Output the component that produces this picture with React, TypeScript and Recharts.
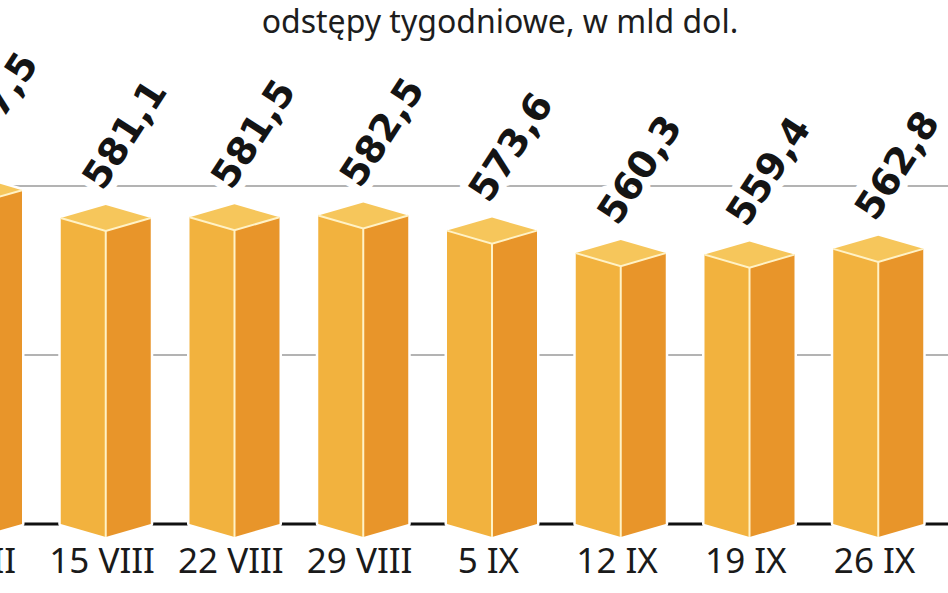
import React from "react";
import { BarChart, Bar, XAxis, YAxis, ReferenceLine, LabelList } from "recharts";

const title = "odstępy tygodniowe, w mld dol.";
const weeks = ["8 VIII", "15 VIII", "22 VIII", "29 VIII", "5 IX", "12 IX", "19 IX", "26 IX"];
const values = [597.5, 581.1, 581.5, 582.5, 573.6, 560.3, 559.4, 562.8];
const gridValues = [500, 600];
const baseValue = 400;

const data = weeks.map((week, i) => ({ week, value: values[i] }));

const fmt = (v: number) => v.toFixed(1).replace(".", ",");

const sansFont = "'Noto Sans', 'Open Sans', 'DejaVu Sans', sans-serif";

// isometric-looking column: two side faces + diamond top
function PrismBar(props: any) {
  const { x, y, width, height } = props;
  if (width == null || height == null) return null;
  const d = 13;
  const xl = x;
  const xm = x + width / 2;
  const xr = x + width;
  const yt = y;
  const yb = y + height;
  const left = `${xl},${yt} ${xm},${yt + d} ${xm},${yb + d} ${xl},${yb}`;
  const right = `${xm},${yt + d} ${xr},${yt} ${xr},${yb} ${xm},${yb + d}`;
  const top = `${xl},${yt} ${xm},${yt - d} ${xr},${yt} ${xm},${yt + d}`;
  const outline = `${xl},${yt} ${xm},${yt - d} ${xr},${yt} ${xr},${yb} ${xm},${yb + d} ${xl},${yb}`;
  return (
    <g>
      <polygon points={outline} fill="#fff" stroke="#fff" strokeWidth={5} strokeLinejoin="round" />
      <polygon points={left} fill="#F2B23E" />
      <polygon points={right} fill="#E8952A" />
      <polygon points={top} fill="#F6C65B" />
      <polyline
        points={`${xl},${yt} ${xm},${yt + d} ${xr},${yt}`}
        fill="none"
        stroke="#FFF2C6"
        strokeWidth={2}
      />
      <line x1={xm} y1={yt + d} x2={xm} y2={yb + d} stroke="#FFF2C6" strokeWidth={2} />
    </g>
  );
}

function ValueLabel(props: any) {
  const { x, y, width, value } = props;
  const ax = x + width / 2 - 3;
  const ay = y - 26;
  return (
    <text
      x={ax}
      y={ay}
      transform={`rotate(-57 ${ax} ${ay})`}
      style={{ fontFamily: "'DejaVu Sans', sans-serif", fontWeight: 700, fontSize: 38 }}
      fill="#141414"
      stroke="#fff"
      strokeWidth={16}
      strokeLinejoin="round"
      paintOrder="stroke"
    >
      {fmt(value)}
    </text>
  );
}

function WeekTick(props: any) {
  const { x, y, payload } = props;
  return (
    <text
      x={x - 4}
      y={y + 49}
      textAnchor="middle"
      style={{ fontFamily: sansFont, fontSize: 35 }}
      fill="#1a1a1a"
    >
      {payload.value}
    </text>
  );
}

export default function App() {
  return (
    <div
      style={{
        position: "absolute",
        left: 0,
        top: 0,
        width: 948,
        height: 593,
        overflow: "hidden",
        background: "#fff",
      }}
    >
      <div style={{ position: "absolute", left: -87, top: 0 }}>
        <BarChart
          width={1050}
          height={593}
          data={data}
          margin={{ top: 17, right: 0, bottom: 0, left: 0 }}
        >
          <XAxis
            dataKey="week"
            height={69}
            axisLine={false}
            tickLine={false}
            tickSize={0}
            tickMargin={0}
            interval={0}
            padding={{ left: 0, right: 20 }}
            tick={<WeekTick />}
          />
          <YAxis hide domain={[baseValue, 700]} />
          {gridValues.map((g) => (
            <ReferenceLine key={g} y={g} stroke="#9a9a9a" strokeWidth={1.5} zIndex={-50} />
          ))}
          <ReferenceLine y={baseValue} stroke="#111" strokeWidth={3} zIndex={-50} />
          <Bar dataKey="value" barSize={90} shape={<PrismBar />} isAnimationActive={false}>
            <LabelList dataKey="value" content={<ValueLabel />} />
          </Bar>
        </BarChart>
      </div>
      <div
        style={{
          position: "absolute",
          left: 0,
          top: 5,
          width: 1000,
          textAlign: "center",
          fontFamily: sansFont,
          fontSize: 32,
          lineHeight: "32px",
          color: "#1d1d1d",
        }}
      >
        {title}
      </div>
    </div>
  );
}
